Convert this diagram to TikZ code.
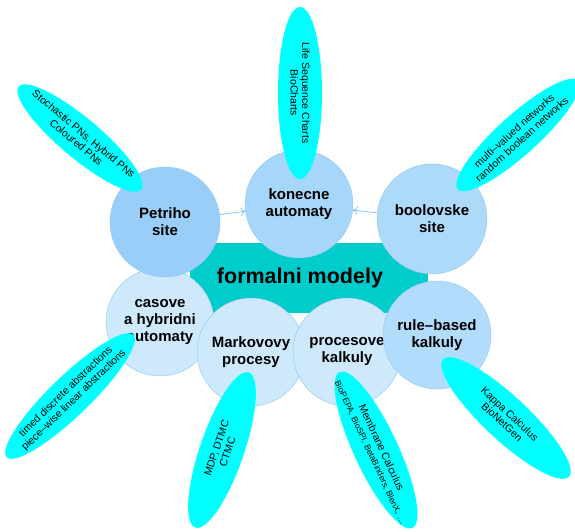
\documentclass[tikz,border=0pt]{standalone}
\usepackage{fontspec}
\setmainfont{Liberation Sans}
\usetikzlibrary{arrows.meta}
\definecolor{hubteal}{RGB}{0,204,204}
\definecolor{leafcyan}{RGB}{0,255,255}
\definecolor{topblue}{RGB}{153,206,248}
\definecolor{midblue}{RGB}{166,214,250}
\definecolor{lowblue}{RGB}{206,233,252}
\definecolor{rimblue}{RGB}{140,198,242}
\tikzset{
  topic/.style={circle, draw=rimblue, minimum size=108pt, inner sep=0pt, align=center,
    font=\fontsize{15}{17}\selectfont\bfseries},
  leaftext/.style={inner sep=0pt, align=center, font=\fontsize{10.5}{11.5}\selectfont},
  link/.style={-{To[length=5pt,width=9pt]}, rimblue, thick}
}
% cyan leaf: centre, half axes, angle
\newcommand{\leafblob}[4]{\fill[leafcyan, rotate around={#4:#1}] #1 ellipse (#2 and #3);}
\begin{document}
\begin{tikzpicture}[x=1pt,y=1pt]
	\useasboundingbox (0,0) rectangle (575,532);
	% core band
	\fill[hubteal] (190,219) rectangle (428,289);
	\node[font=\fontsize{21.5}{24}\selectfont\bfseries] (core) at (300,254) {formalni modely};
	% lower row
	\node[topic, fill=lowblue] (hybrid) at (160,210) {casove\\a hybridni\\automaty};
	\node[topic, fill=lowblue] (markov) at (251,180) {Markovovy\\procesy};
	\node[topic, fill=lowblue] (proc) at (347,180) {procesove\\kalkuly};
	\node[topic, fill=midblue!70!lowblue] (rule) at (437,197) {rule--based\\kalkuly};
	% upper row
	\node[topic, fill=topblue, minimum size=110pt] (petri) at (165,310) {Petriho\\site};
	\node[topic, fill=midblue] (fsm) at (299,328) {konecne\\automaty};
	\node[topic, fill=midblue!80!lowblue, minimum size=110pt] (bool) at (432,313) {boolovske\\site};
	\draw[link] (petri) -- (fsm);
	\draw[link] (bool) -- (fsm);
	% leaves
	\leafblob{(80,394)}{80}{20}{-40}
	\node[leaftext, rotate=-40] (pn) at (80,394) {Stochastic PNs, Hybrid PNs\\Coloured PNs};
	\leafblob{(300,439)}{86}{22}{-90}
	\node[leaftext, rotate=-90] (lsc) at (300,439) {Life Sequence Charts\\BioCharts};
	\leafblob{(518,397)}{81}{20}{42}
	\node[leaftext, rotate=42] (mv) at (518,397) {multi--valued networks\\random boolean networks};
	\leafblob{(70,136)}{88}{20}{44}
	\node[leaftext, rotate=44] (timed) at (70,136) {timed discrete abstractions\\piece--wise linear abstractions};
	\leafblob{(222,82)}{82}{22}{71}
	\node[leaftext, rotate=71] (mdp) at (222,82) {MDP, DTMC\\CTMC};
	\leafblob{(376,82)}{86}{22}{-65}
	\node[leaftext, rotate=-65] (mem) at (376,82)
		{Membrane Calculus\\{\fontsize{8.5}{9.5}\selectfont BioPEPA, BioSPI, BetaBinders, BlenX, \dots}};
	\leafblob{(506,114)}{86}{22}{-43}
	\node[leaftext, rotate=-43] (kappa) at (506,114) {Kappa Calculus\\BioNetGen};
\end{tikzpicture}
\end{document}
